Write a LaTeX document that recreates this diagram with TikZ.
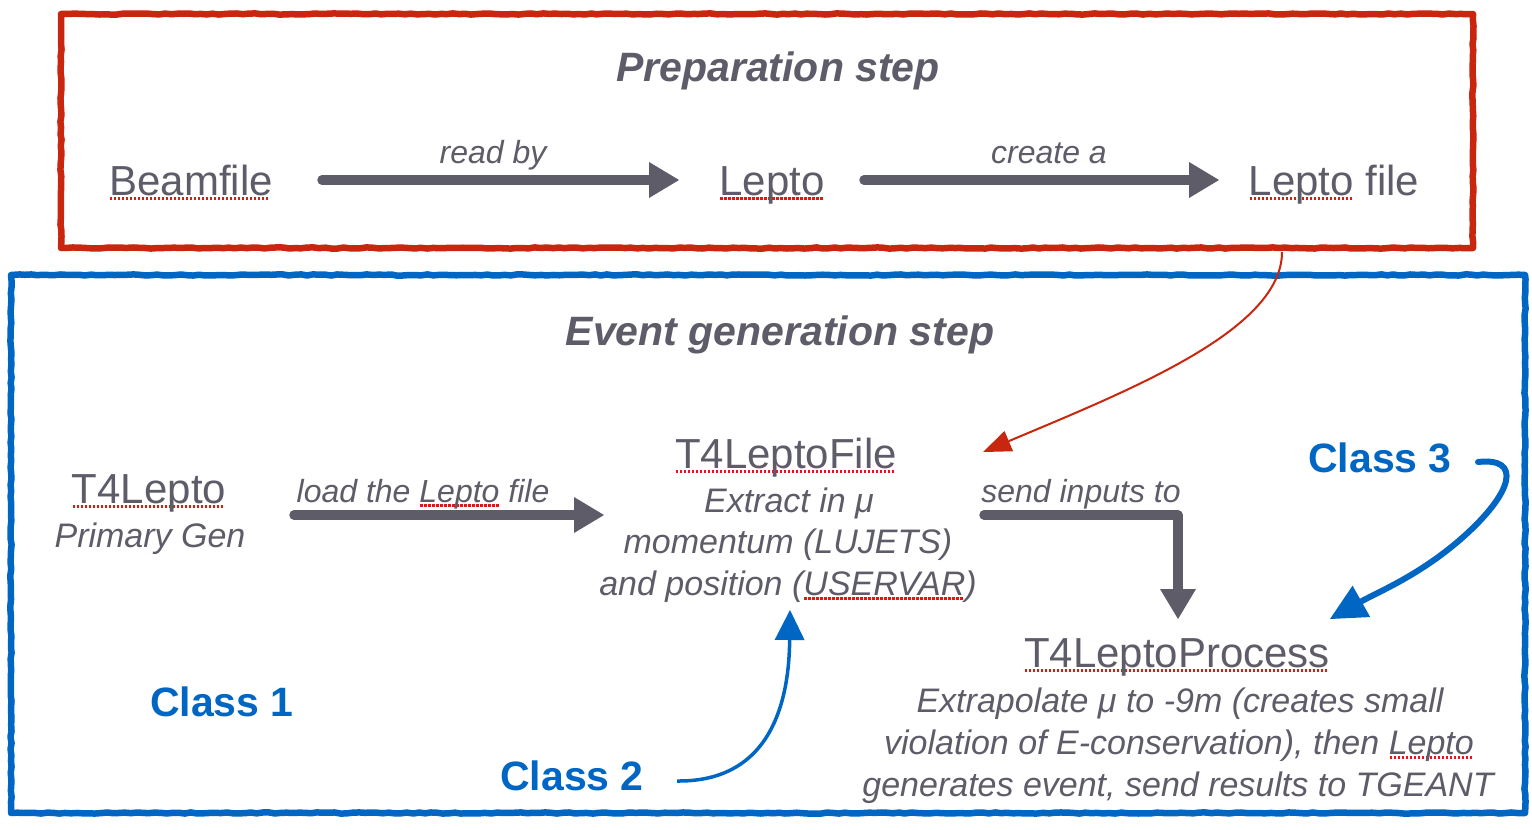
\documentclass[tikz,border=0pt]{standalone}
\usepackage{fontspec}
\setmainfont{Liberation Sans}
\usetikzlibrary{arrows.meta,decorations.pathmorphing}
\definecolor{txt}{RGB}{94,92,104}
\definecolor{rd}{RGB}{200,38,14}
\definecolor{bl}{RGB}{0,102,196}
\definecolor{sqred}{RGB}{232,20,20}
\newsavebox\sqb
\newcommand\sq[1]{\sbox\sqb{#1}\rlap{\raisebox{-4.5pt}[0pt][0pt]{\hbox to \wd\sqb{\color{sqred}\leaders\hbox to 4pt{\hss\rule{2.2pt}{2.2pt}\hss}\hfill}}}\usebox\sqb}
\begin{document}
\begin{tikzpicture}[x=1pt,y=-1pt,
  lbl/.style={inner sep=0pt,anchor=base,text=txt,font=\fontsize{42}{48}\selectfont},
  desc/.style={inner sep=0pt,anchor=base,text=txt,font=\fontsize{34}{40}\selectfont\itshape},
  alab/.style={inner sep=0pt,anchor=base,text=txt,font=\fontsize{32}{38}\selectfont\itshape},
  ttl/.style={inner sep=0pt,anchor=base,text=txt,font=\fontsize{41}{48}\selectfont\bfseries\itshape},
  cls/.style={inner sep=0pt,anchor=base,text=bl,font=\fontsize{41}{48}\selectfont\bfseries},
  garrow/.style={draw=txt,line width=9.5pt,line cap=round,line join=round,-{Triangle[width=36pt,length=30pt,line width=0pt]}},
  frame/.style={line width=6.5pt,line join=round,line cap=round,decorate,decoration={random steps,segment length=6pt,amplitude=0.6pt}}]
\useasboundingbox (0,0) rectangle (1532,830);
\fill[white] (0,0) rectangle (1532,830);
% frames
\draw[frame,rd] (61,14) rectangle (1473,248);
\draw[frame,bl] (11,275) rectangle (1525,813);
% preparation step
\node[ttl] (prep) at (778,81) {Preparation step};
\node[lbl] (beam) at (191,195) {\sq{Beamfile}};
\node[lbl] (lepto) at (772,195) {\sq{Lepto}};
\node[lbl] (lfile) at (1334,195) {\sq{Lepto} file};
\node[alab] (readby) at (493,163) {read by};
\node[alab] (createa) at (1049,163) {create a};
\coordinate (a1s) at (322,180);
\coordinate (a1e) at (679,180);
\coordinate (a2s) at (864,180);
\coordinate (a2e) at (1219,180);
\draw[garrow] (a1s) -- (a1e);
\draw[garrow] (a2s) -- (a2e);
% event generation step
\node[ttl] (evt) at (780,345) {Event generation step};
\node[lbl] (t4l) at (149,503) {\sq{T4Lepto}};
\node[desc] (pg) at (150,547) {Primary Gen};
\node[alab] (load) at (423,502) {load the \sq{Lepto} file};
\node[lbl] (t4f) at (786,468) {\sq{T4LeptoFile}};
\node[desc] (f1) at (789,512) {Extract in μ};
\node[desc] (f2) at (788,553) {momentum (LUJETS)};
\node[desc] (f3) at (788,595) {and position (\sq{USERVAR})};
\node[alab] (send) at (1081,502) {send inputs to};
\node[lbl] (t4p) at (1177,667) {\sq{T4LeptoProcess}};
\node[desc] (p1) at (1180,712) {Extrapolate μ to -9m (creates small};
\node[desc] (p2) at (1179,754) {violation of E-conservation), then \sq{Lepto}};
\node[desc] (p3) at (1178,796) {generates event, send results to TGEANT};
\node[cls] (c1) at (222,716) {Class 1};
\node[cls] (c2) at (572,790) {Class 2};
\node[cls] (c3) at (1380,472) {Class 3};
\coordinate (a3s) at (294,515);
\coordinate (a3e) at (604,515);
\coordinate (a4s) at (984,515);
\coordinate (a4c) at (1178,515);
\coordinate (a4e) at (1178,619);
\draw[garrow] (a3s) -- (a3e);
\draw[garrow] (a4s) -- (a4c) -- (a4e);
% class arrows
\coordinate (c2s) at (677,781);
\coordinate (c2e) at (790,610);
\draw[bl,line width=3.5pt,-{Triangle[width=30pt,length=30pt,line width=0pt]}] (c2s) .. controls (772,782) and (789,700) .. (c2e);
\coordinate (c3s) at (1478,462);
\coordinate (c3m) at (1462,538);
\coordinate (c3e) at (1330,619);
\draw[bl,line width=6pt,line cap=round,-{Triangle[width=36pt,length=36pt,line width=0pt]}] (c3s) .. controls (1522,457) and (1514,492) .. (c3m) .. controls (1420,575) and (1378,592) .. (c3e);
% red connector
\coordinate (rs) at (1282,252);
\coordinate (re) at (983,452);
\draw[rd,line width=2pt,-{Triangle[width=22pt,length=28pt,line width=0pt]}] (rs) .. controls (1282,330) and (1130,390) .. (re);
\end{tikzpicture}
\end{document}
